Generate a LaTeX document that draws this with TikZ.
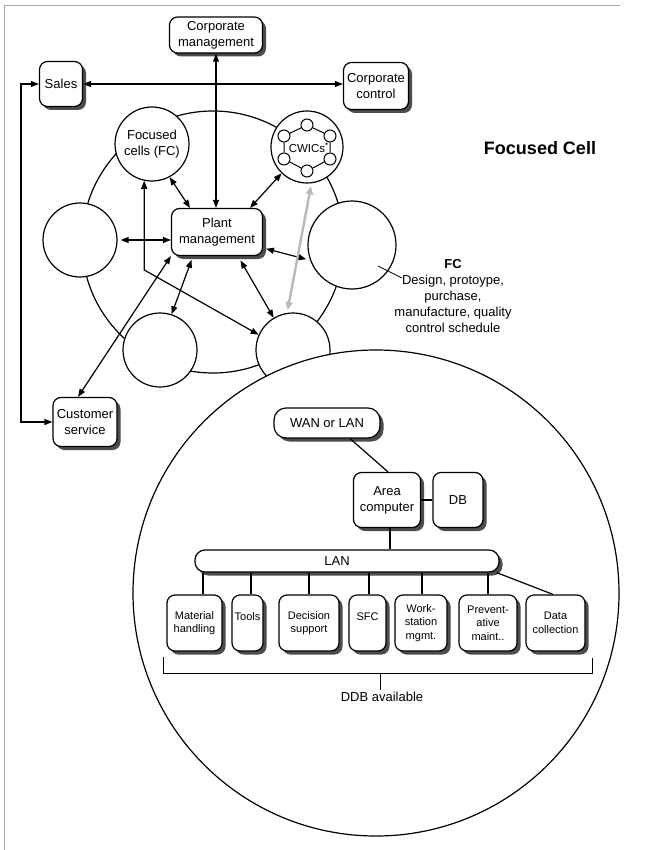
\documentclass[tikz,border=0pt]{standalone}
\usepackage{fontspec}
\setmainfont{Liberation Sans}
\usetikzlibrary{arrows.meta,calc}
\begin{document}
\begin{tikzpicture}[x=1pt,y=-1pt,
  lw/.style={line width=1.2pt},
  shd/.style={preaction={fill=black!70,transform canvas={xshift=3.5pt,yshift=-3.5pt}}},
  box/.style={draw,lw,rounded corners=8pt,fill=white,shd,align=center,inner sep=0pt,font=\fontsize{13}{16}\selectfont},
  sbox/.style={box,font=\fontsize{11}{13.5}\selectfont,minimum height=56pt},
  circ/.style={draw,lw,circle,fill=white,inner sep=0pt,align=center,font=\fontsize{13}{16}\selectfont},
  arr/.style={lw,{Triangle[length=8pt,width=6pt]}-{Triangle[length=8pt,width=6pt]}},
  garr/.style={line width=2.4pt,gray!55,{Triangle[length=8pt,width=7pt]}-{Triangle[length=8pt,width=7pt]}},
  conn/.style={lw},
  hx/.style={draw,circle,fill=white,line width=1pt,minimum size=12pt,inner sep=0pt},
  lbl/.style={align=center,inner sep=0pt,font=\fontsize{13}{16}\selectfont}
]
\useasboundingbox (0,0) rectangle (651,850);
\fill[white] (0,0) rectangle (651,850);
\draw[gray!70,line width=0.8pt] (4,850) -- (4,5) -- (620,5);

% middle large circle
\draw[lw] (213,242) circle[radius=131];

% small circles
\node[circ,minimum size=74pt] (fc) at (152,144) {Focused\\cells (FC)};
\node[circ,minimum size=72pt] (cw) at (307,147) {};
\node[circ,minimum size=74pt] (lc) at (80,240) {};
\node[circ,minimum size=74pt] (llc) at (160,350) {};
\node[circ,minimum size=74pt] (bc) at (293,350) {};
\node[circ,minimum size=88pt] (rc) at (352,245) {};

% CWICs ring
\node[hx] (h1) at (307,125) {};
\node[hx] (h2) at (330,136) {};
\node[hx] (h3) at (330,159) {};
\node[hx] (h4) at (307,171) {};
\node[hx] (h5) at (284,159) {};
\node[hx] (h6) at (284,136) {};
\draw[line width=1pt] (h1)--(h2) (h2)--(h3) (h3)--(h4) (h4)--(h5) (h5)--(h6) (h6)--(h1);
\node[inner sep=0pt,font=\fontsize{11.5}{13}\selectfont] (cwt) at (307,148) {CWICs\rlap{\textsuperscript{*}}};

% boxes
\node[box,minimum width=93pt,minimum height=36pt] (cm) at (216,35) {Corporate\\management};
\node[box,minimum width=43pt,minimum height=45pt] (sales) at (61,84) {Sales};
\node[box,minimum width=65pt,minimum height=47pt] (cc) at (376,86) {Corporate\\control};
\node[box,minimum width=91pt,minimum height=47pt] (pm) at (217,232) {Plant\\management};
\node[box,minimum width=64pt,minimum height=49pt] (cs) at (85,422) {Customer\\service};

% arrows
\draw[arr] (cm.south) -- (cm.south |- pm.north);
\draw[arr] (sales.east) -- (sales.east -| cc.west);
\draw[arr] (sales.west) -- ++(-18,0) |- (cs.west);
\draw[arr] (fc.-62) -- ([xshift=-27pt]pm.north);
\draw[arr] (cw.-134) -- ([xshift=33pt]pm.north);
\draw[arr,shorten <=3pt] (lc.east) -- (lc.east -| pm.west);
\draw[arr,shorten >=4pt,shorten <=3pt] ([yshift=-16pt]pm.east) -- (rc.-160);
\draw[arr,shorten <=4pt] ([xshift=-24pt]pm.south) -- (llc.72);
\draw[arr,shorten <=5pt] ([xshift=21pt]pm.south) -- (bc.121);
\draw[arr] (pm.south west) -- ([xshift=-7pt]cs.north);
\coordinate (bend) at (144.3,270);
\draw[arr] (fc.-102) -- (bend) -- (bc.156);
\draw[garr,shorten <=3pt,shorten >=3pt] (cw.-83) -- (bc.99);

% FC label
\node[lbl] (fcl) at (453,296) {\textbf{FC}\\Design, protoype,\\purchase,\\manufacture, quality\\control schedule};
\coordinate (ptrin) at ($(rc.center)+(26,21)$);
\coordinate (ptr) at (402,278);
\draw[line width=0.8pt] (ptrin) -- (ptr);

\node[inner sep=0pt,font=\fontsize{18}{20}\selectfont\bfseries] (title) at (540,148) {Focused Cell};

% lower big circle
\node[draw,lw,circle,fill=white,minimum size=486pt,inner sep=0pt] (big) at (376,593) {};

% inner network
\node[box,rounded corners=12pt,minimum width=106pt,minimum height=30pt] (wan) at (327,423) {WAN or LAN};
\node[box,minimum width=67pt,minimum height=55pt] (ac) at (387,500) {Area\\computer};
\node[box,minimum width=50pt,minimum height=55pt] (db) at (458,500) {DB};
\node[box,rounded corners=10pt,minimum width=304pt,minimum height=22pt] (lan) at (347,561) {};
\node[lbl] (lant) at ([xshift=-10pt]lan.center) {LAN};
\draw[conn] ([xshift=23pt]wan.south) -- ([xshift=1pt]ac.north);
\draw[conn] (ac.east) -- (db.west);
\draw[conn] ([xshift=3pt]ac.south) -- ([xshift=3pt]ac.south |- lan.north);

\node[sbox,minimum width=55pt] (mh) at (194.5,623) {Material\\handling};
\node[sbox,minimum width=31pt] (tools) at (247.5,623) {Tools\\~};
\node[sbox,minimum width=60pt] (ds) at (309,623) {Decision\\support};
\node[sbox,minimum width=37pt] (sfc) at (367.5,623) {SFC\\~};
\node[sbox,minimum width=52pt] (ws) at (421,623) {Work-\\station\\mgmt.};
\node[sbox,minimum width=58pt] (pv) at (488,623) {Prevent-\\ative\\maint..};
\node[sbox,minimum width=59pt] (dc) at (555.5,623) {Data\\collection};

\draw[conn] ([xshift=8.5pt]mh.north) -- ([xshift=8.5pt]mh.north |- lan.south);
\draw[conn] ([xshift=3.5pt]tools.north) -- ([xshift=3.5pt]tools.north |- lan.south);
\draw[conn] (ds.north) -- (ds.north |- lan.south);
\draw[conn] ([xshift=1.5pt]sfc.north) -- ([xshift=1.5pt]sfc.north |- lan.south);
\draw[conn] ([xshift=1pt]ws.north) -- ([xshift=1pt]ws.north |- lan.south);
\draw[conn] (pv.north) -- (pv.north |- lan.south);
\draw[conn] ([xshift=-3pt]lan.south east) -- ([xshift=-2.5pt]dc.north);

% DDB bracket
\node[lbl] (ddb) at (382,697) {DDB available};
\coordinate (bl) at (163,673);
\coordinate (br) at (592,673);
\draw[line width=1pt] (bl) ++(0,-16) -- (bl) -- (br) -- ++(0,-15);
\draw[line width=1pt] ([xshift=-2pt,yshift=2pt]ddb.north) -- ([xshift=-2pt]ddb.north |- bl);
\end{tikzpicture}
\end{document}
